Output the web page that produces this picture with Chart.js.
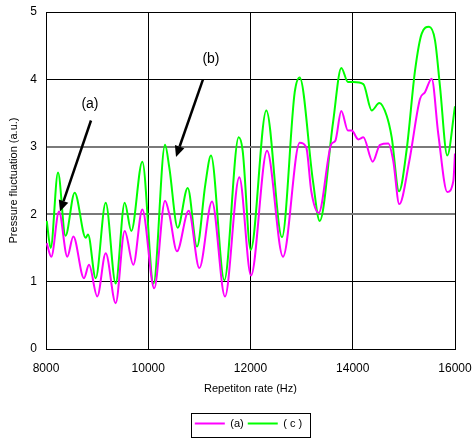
<!DOCTYPE html>
<html>
<head>
<meta charset="utf-8">
<script src="https://cdn.jsdelivr.net/npm/chart.js@4"></script>
<style>
html,body{margin:0;padding:0;background:#fff;}
#wrap{width:473px;height:439px;position:relative;}
</style>
</head>
<body>
<div id="wrap"><canvas id="c" width="473" height="439"></canvas></div>
<script>
// ---- data ----
const freqA = [8014,8104,8254,8417,8534,8743,8841,9003,9168,9363,9539,9708,9884,10117,10328,10412,10562,10791,10999,11247,11501,11781,12010,12323,12636,12962,13091,13189,13334,13581,13659,13776,13907,13980,14109,14207,14390,14533,14696,14793,14910,15106,15315,15413,15544,15673,15849,15967,16000];
const valsA = [1.57,1.37,2.04,1.37,1.67,1.05,1.25,0.78,1.42,0.68,1.75,1.25,2.07,0.90,2.20,2.00,1.45,2.05,1.20,2.19,0.78,2.55,1.09,2.94,1.37,3.06,2.99,2.34,2.02,3.04,3.09,3.53,3.24,3.24,3.11,3.14,2.78,3.03,3.05,2.79,2.15,2.79,3.71,3.81,4.01,3.19,2.33,2.49,2.90];
const freqC = [8014,8092,8235,8381,8561,8777,8822,8972,9168,9363,9539,9669,9884,10103,10328,10412,10576,10772,10954,11116,11227,11488,11769,11847,12004,12309,12616,12865,12962,13222,13354,13614,13776,13907,14011,14207,14371,14520,14664,14762,14905,15055,15218,15349,15492,15609,15707,15849,16000];
const valsC = [1.90,1.50,2.62,1.68,2.32,1.65,1.70,1.05,2.17,0.97,2.17,1.75,2.78,0.97,3.03,2.69,1.80,2.39,1.52,2.44,2.87,1.02,3.14,2.94,1.47,3.54,1.66,3.81,4.03,2.49,1.90,3.36,4.17,3.96,3.96,3.93,3.54,3.65,3.46,3.14,2.34,2.96,4.13,4.68,4.78,4.58,3.89,2.87,3.60];
const seriesNames = ['(a)', '( c )'];
const xTicks = [8000,10000,12000,14000,16000];
const xTickLabels = ['8000','10000','12000','14000','16000'];
const yTicks = [0,1,2,3,4,5];
const xTitle = 'Repetiton rate (Hz)';
const yTitle = 'Pressure fluctuation (a.u.)';
// annotations: label text, label position, arrow start, arrow tip (data units)
const annoText = ['(a)', '(b)'];
const annoLabel = [[8860,3.64],[11227,4.30]];
const annoFrom = [[8880,3.39],[11071,4.00]];
const annoTo = [[8274,2.04],[10543,2.85]];

const toPts = (xs, ys) => xs.map((x,i)=>({x:x, y:ys[i]}));

const LEG_DX = 21, LEG_DY = 1;
const annoPlugin = {
  id:'anno',
  afterLayout(chart){
    const lg = chart.legend;
    if (!lg) return;
    lg.left += LEG_DX; lg.right += LEG_DX;
    lg.top += LEG_DY; lg.bottom += LEG_DY;
    (lg.legendHitBoxes||[]).forEach(h=>{ h.left += LEG_DX; h.top += LEG_DY; });
  },
  afterDatasetsDraw(chart){
    const {ctx, scales:{x, y}} = chart;
    ctx.save();
    ctx.fillStyle = '#000';
    ctx.strokeStyle = '#000';
    ctx.font = '14px "Liberation Sans", Arial, sans-serif';
    ctx.textAlign = 'center';
    ctx.textBaseline = 'middle';
    for (let i=0;i<annoText.length;i++){
      ctx.fillText(annoText[i], x.getPixelForValue(annoLabel[i][0]), y.getPixelForValue(annoLabel[i][1]));
      const x0 = x.getPixelForValue(annoFrom[i][0]), y0 = y.getPixelForValue(annoFrom[i][1]);
      const x1 = x.getPixelForValue(annoTo[i][0]), y1 = y.getPixelForValue(annoTo[i][1]);
      const ang = Math.atan2(y1-y0, x1-x0);
      const hl = 11, hw = 5;
      const bx = x1 - hl*Math.cos(ang), by = y1 - hl*Math.sin(ang);
      ctx.lineWidth = 2.5;
      ctx.beginPath(); ctx.moveTo(x0,y0); ctx.lineTo(bx,by); ctx.stroke();
      ctx.beginPath();
      ctx.moveTo(x1,y1);
      ctx.lineTo(bx + hw*Math.sin(ang), by - hw*Math.cos(ang));
      ctx.lineTo(bx - hw*Math.sin(ang), by + hw*Math.cos(ang));
      ctx.closePath(); ctx.fill();
    }
    ctx.restore();
  },
  afterDraw(chart){
    const lg = chart.legend;
    if (!lg || !lg.legendHitBoxes || !lg.legendHitBoxes.length) return;
    const hb = lg.legendHitBoxes;
    const l = hb[0].left - 4, r = hb[hb.length-1].left + hb[hb.length-1].width + 8;
    const t = Math.min(...hb.map(h=>h.top)) - 6, b = Math.max(...hb.map(h=>h.top+h.height)) + 7;
    const ctx = chart.ctx;
    ctx.save();
    ctx.strokeStyle = '#000'; ctx.lineWidth = 1;
    ctx.strokeRect(Math.round(l)+0.5, Math.round(t)+0.5, Math.round(r-l), Math.round(b-t));
    ctx.restore();
  }
};

Chart.defaults.font.family = '"Liberation Sans", Arial, sans-serif';
Chart.defaults.color = '#000';

new Chart(document.getElementById('c'), {
  type:'line',
  data:{
    datasets:[
      {label:seriesNames[0], data:toPts(freqA, valsA), borderColor:'#ff00ff', backgroundColor:'#ff00ff', borderWidth:2, pointRadius:0, cubicInterpolationMode:'monotone', pointStyle:'line'},
      {label:seriesNames[1], data:toPts(freqC, valsC), borderColor:'#00ff00', backgroundColor:'#00ff00', borderWidth:2, pointRadius:0, cubicInterpolationMode:'monotone', pointStyle:'line'}
    ]
  },
  options:{
    responsive:false,
    animation:false,
    events:[],
    layout:{padding:{left:0,right:18,top:12,bottom:1}},
    plugins:{
      tooltip:{enabled:false},
      legend:{
        position:'bottom',
        labels:{usePointStyle:true, pointStyleWidth:30, boxHeight:11, padding:4, font:{size:11}, color:'#000'}
      }
    },
    scales:{
      x:{
        type:'linear', min:8000, max:16000,
        afterBuildTicks(s){ s.ticks = xTicks.map(v=>({value:v})); },
        afterFit(s){ s.height = 64; s.paddingLeft = 0; s.paddingRight = 0; },
        ticks:{padding:12, font:{size:12}, color:'#000', maxRotation:0, callback:(v)=>xTickLabels[xTicks.indexOf(v)]},
        grid:{color:'#000', lineWidth:1, drawTicks:false},
        border:{color:'#000', width:1},
        title:{display:true, text:xTitle, font:{size:11}, color:'#000', padding:{top:0,bottom:17}}
      },
      y:{
        min:0, max:5,
        afterBuildTicks(s){ s.ticks = yTicks.map(v=>({value:v})); },
        afterFit(s){ s.width = 46; s.paddingTop = 0; s.paddingBottom = 0; },
        ticks:{padding:9, font:{size:12}, color:'#000'},
        grid:{color:(c)=> (c.tick && (c.tick.value===2||c.tick.value===3)) ? '#7a7a7a' : '#000', lineWidth:(c)=> (c.tick && (c.tick.value===2||c.tick.value===3)) ? 2 : 1, drawTicks:false},
        border:{color:'#000', width:1},
        title:{display:true, text:yTitle, font:{size:11}, color:'#000', padding:{top:7,bottom:0}}
      }
    }
  },
  plugins:[annoPlugin]
});
</script>
</body>
</html>
